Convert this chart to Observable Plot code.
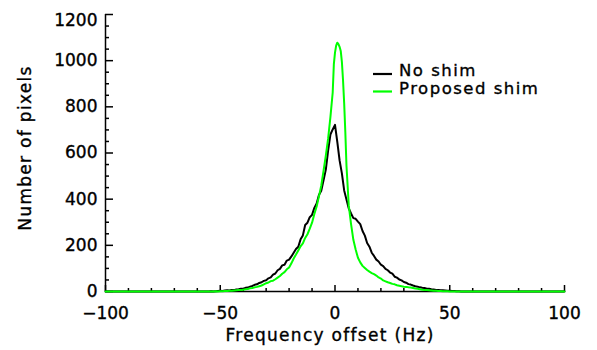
<!DOCTYPE html>
<html>
<head>
<meta charset="utf-8">
<script src="https://cdn.jsdelivr.net/npm/d3@7"></script>
<script src="https://cdn.jsdelivr.net/npm/@observablehq/plot@0.6"></script>
<style>
  body { margin: 0; background: #fff; }
  #wrap { position: relative; width: 597px; height: 350px; font-family: "DejaVu Sans", sans-serif; }
  #legend { position: absolute; left: 0; top: 0; pointer-events: none; }
  #wrap text { stroke: #000; stroke-width: 0.35px; }
</style>
</head>
<body>
<div id="wrap"></div>
<script>
// ---- data ----
const seriesNames = ["No shim", "Proposed shim"];
const seriesColors = ["#000000", "#00ff00"];

const noShimHz = [-100,
  -55,-54,-53,-52,-51,-50,-49,-48,-47,-46,-45,-44,-43,-42,-41,-40,-39,-38,-37,-36,
  -35,-34,-33,-32,-31,-30,-29,-28,-27,-26,-25,-24,-23,-22,-21,-20,-19,-18,-17,-16,
  -15,-14,-13,-12,-11,-10,-9,-8,-7,-6,-5,-4,-3,-2,-1,0,1,2,3,4,5,6,7,8,9,10,
  11,12,13,14,15,16,17,18,19,20,21,22,23,24,25,26,27,28,29,30,31,32,33,34,35,
  36,37,38,39,40,41,42,43,44,45,46,47,48,49,50,51,52,53,54,55,
  100];
const noShimCount = [0,
  0,1,0,1,2,3,2,4,5,4,7,6,9,10,12,12,16,17,21,24,
  29,31,37,40,46,49,57,61,73,78,92,98,113,116,134,138,152,168,184,194,
  226,243,288,298,322,332,362,381,418,436,482,528,610,680,702,722,648,568,512,438,398,360,338,318,315,303,
  292,262,242,210,194,168,154,138,130,116,110,98,92,82,77,64,60,52,48,41,38,32,30,26,23,
  21,18,16,15,12,12,10,9,7,7,5,5,4,3,3,2,2,1,1,0,
  0];

const shimHz = [-100,
  -55,-54,-53,-52,-51,-50,-49,-48,-47,-46,-45,-44,-43,-42,-41,-40,-39,-38,-37,-36,
  -35,-34,-33,-32,-31,-30,-29,-28,-27,-26,-25,-24,-23,-22,-21,-20,-19,-18,-17,-16,
  -15,-14,-13,-12,-11,-10,-9,-8,-7,-6,-5,-4,-3,-2,-1,-0.5,0,0.5,1,1.5,2,2.5,3,3.5,4,4.5,5,
  6,7,8,9,10,11,12,13,14,15,16,17,18,19,20,21,22,23,24,25,26,27,28,29,30,31,32,33,34,35,
  36,37,38,39,40,41,42,43,44,45,46,47,48,49,50,51,52,53,54,55,
  100];
const shimCount = [0,
  0,0,0,1,0,1,1,2,2,3,3,4,5,6,6,8,10,11,14,15,
  18,20,23,26,31,36,39,45,47,53,60,67,77,84,96,104,122,143,160,178,
  196,208,232,248,272,298,336,368,412,458,522,588,662,755,862,985,1035,1065,1078,1072,1060,1042,995,915,815,690,545,
  372,292,224,182,146,126,111,102,93,86,80,75,69,61,56,48,44,40,37,33,31,27,25,23,21,20,18,17,15,13,
  12,10,8,7,6,5,4,3,3,2,2,1,1,1,0,0,0,0,0,0,
  0];

const xDomain = [-100, 100];
const yDomain = [0, 1200];
const xMajorTicks = [-100, -50, 0, 50, 100];
const xMinorTicks = [-90,-80,-70,-60,-40,-30,-20,-10,10,20,30,40,60,70,80,90];
const yMajorTicks = [0, 200, 400, 600, 800, 1000, 1200];
const yMinorTicks = [50,100,150,250,300,350,450,500,550,650,700,750,850,900,950,1050,1100,1150];
const xTitle = "Frequency offset (Hz)";
const yTitle = "Number of pixels";

// ---- layout ----
const W = 597, H = 350;
const mL = 105, mR = 33, mT = 14, mB = 59;
const plotW = W - mL - mR, plotH = H - mT - mB;

const rows = [];
noShimHz.forEach((x, i) => rows.push({series: seriesNames[0], hz: x, n: noShimCount[i]}));
shimHz.forEach((x, i) => rows.push({series: seriesNames[1], hz: x, n: shimCount[i]}));

const fontStyle = {fontFamily: "'DejaVu Sans', sans-serif", fontSize: 17};
const intFmt = d3.format("d");

const chart = Plot.plot({
  width: W, height: H,
  marginLeft: mL, marginRight: mR, marginTop: mT, marginBottom: mB,
  style: {fontFamily: "'DejaVu Sans', sans-serif", fontSize: "17px", color: "#000", background: "#fff", overflow: "visible"},
  x: {domain: xDomain},
  y: {domain: yDomain},
  color: {domain: seriesNames, range: seriesColors},
  marks: [
    // tick labels
    Plot.axisX(xMajorTicks, {tickSize: 0, tickPadding: 15, label: null, fontSize: 17}),
    Plot.axisY(yMajorTicks.filter(d => d !== yDomain[1]), {tickSize: 0, tickPadding: 8, label: null, fontSize: 17, tickFormat: intFmt}),
    Plot.axisY([yDomain[1]], {tickSize: 0, tickPadding: 8, label: null, fontSize: 17, dy: 6, tickFormat: intFmt}),
    // inward ticks
    Plot.tickY(yMajorTicks, {y: d => d, insetRight: plotW - 8, stroke: "#000", strokeWidth: 1.5}),
    Plot.tickY(yMinorTicks, {y: d => d, insetRight: plotW - 4, stroke: "#000", strokeWidth: 1.5}),
    Plot.tickX(xMajorTicks, {x: d => d, insetTop: plotH - 6, stroke: "#000", strokeWidth: 1.5}),
    Plot.tickX(xMinorTicks, {x: d => d, insetTop: plotH - 3, stroke: "#000", strokeWidth: 1.5}),
    // axis lines
    Plot.ruleX([xDomain[0]], {stroke: "#000", strokeWidth: 1.5}),
    Plot.ruleY([yDomain[0]], {stroke: "#000", strokeWidth: 1.5}),
    // series
    Plot.line(rows, {x: "hz", y: "n", z: "series", stroke: "series", strokeWidth: 2, curve: "linear"}),
    // axis titles
    Plot.text([xTitle], {frameAnchor: "bottom", dx: -5, dy: 44, ...fontStyle, fill: "#000", textAnchor: "middle", lineAnchor: "middle"}),
    Plot.text([yTitle], {frameAnchor: "left", dx: -80, dy: -5, rotate: -90, ...fontStyle, fill: "#000", textAnchor: "middle", lineAnchor: "middle"})
  ]
});

// letter spacing for titles
d3.select(chart).selectAll("text").filter(function() { return this.textContent === xTitle || this.textContent === yTitle; })
  .style("letter-spacing", "1.3px");

const wrap = document.getElementById("wrap");
wrap.appendChild(chart);

// legend overlay
const legendItems = seriesNames.map((name, i) => ({name, color: seriesColors[i]}));
const lg = d3.select(wrap).append("svg").attr("id", "legend").attr("width", W).attr("height", H);
legendItems.forEach((d, i) => {
  const base = 76 + i * 17.5;
  lg.append("line").attr("x1", 373).attr("x2", 392).attr("y1", base - 2).attr("y2", base - 2)
    .attr("stroke", d.color).attr("stroke-width", 2.2);
  lg.append("text").attr("x", 399).attr("y", base).text(d.name)
    .attr("font-family", "'DejaVu Sans', sans-serif").attr("font-size", 16.5)
    .style("letter-spacing", "1.5px").attr("fill", "#000");
});
</script>
</body>
</html>
